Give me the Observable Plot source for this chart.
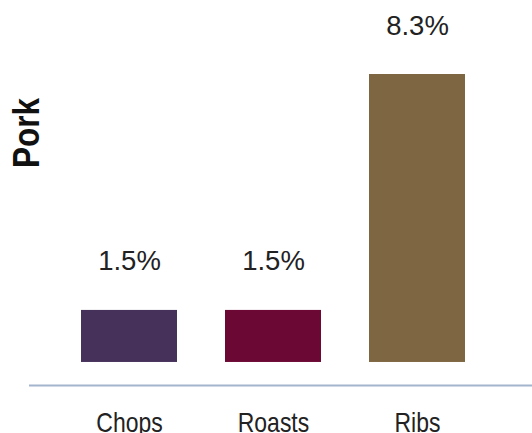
<!DOCTYPE html>
<html>
<head>
<meta charset="utf-8">
<script src="https://cdn.jsdelivr.net/npm/d3@7"></script>
<script src="https://cdn.jsdelivr.net/npm/@observablehq/plot@0.6"></script>
<style>
  html, body { margin: 0; padding: 0; background: #fff; }
  #chart svg { display: block; }
</style>
</head>
<body>
<div id="chart"></div>
<script>
const categories = ["Chops", "Roasts", "Ribs"];
const values = [1.5, 1.5, 8.3];
const colors = ["#46315a", "#6c0834", "#7e6642"];
const groupLabel = "Pork";
const yDomain = [-0.664, 8.3];

const data = categories.map((c, i) => ({category: c, value: values[i], color: colors[i]}));
const sans = "'Liberation Sans', Arial, sans-serif";

const chart = Plot.plot({
  width: 532,
  height: 433,
  marginLeft: 32,
  marginRight: 18.5,
  marginTop: 74,
  marginBottom: 48,
  style: {background: "#fff", color: "#222"},
  x: {domain: categories, padding: 0.33, label: null},
  y: {domain: yDomain, axis: null},
  color: {type: "identity"},
  marks: [
    Plot.ruleY([yDomain[0]], {stroke: "#a3b4cd", strokeWidth: 2, insetLeft: -3, insetRight: -18.5}),
    Plot.barY(data, {x: "category", y1: 0, y2: "value", fill: "color"}),
    Plot.text(data, {
      x: "category", y: "value", text: d => d.value.toFixed(1) + "%",
      lineAnchor: "bottom", dy: -40, fontSize: 27.5, fill: "#222",
      fontFamily: sans
    }),
    Plot.axisX({
      tickSize: 0, tickPadding: 27, fontSize: 28, label: null,
      fontFamily: sans, fill: "#222"
    }),
    Plot.text([groupLabel], {
      frameAnchor: "top-left", text: d => d, rotate: -90,
      dx: -5, dy: 58.5, textAnchor: "middle", lineAnchor: "middle",
      fontSize: 37, fontWeight: "bold", fill: "#111", fontFamily: sans
    })
  ]
});

// condense the narrow-style texts horizontally (no condensed font installed)
d3.select(chart).selectAll("g[aria-label='x-axis tick label'] text").each(function() {
  const t = this.getAttribute("transform") || "";
  this.setAttribute("transform", t + " scale(0.82,1)");
});
d3.select(chart).selectAll("text").filter(function() { return this.textContent === groupLabel; }).each(function() {
  const t = this.getAttribute("transform") || "";
  this.setAttribute("transform", t + " scale(0.85,1)");
});

document.getElementById("chart").appendChild(chart);
</script>
</body>
</html>
